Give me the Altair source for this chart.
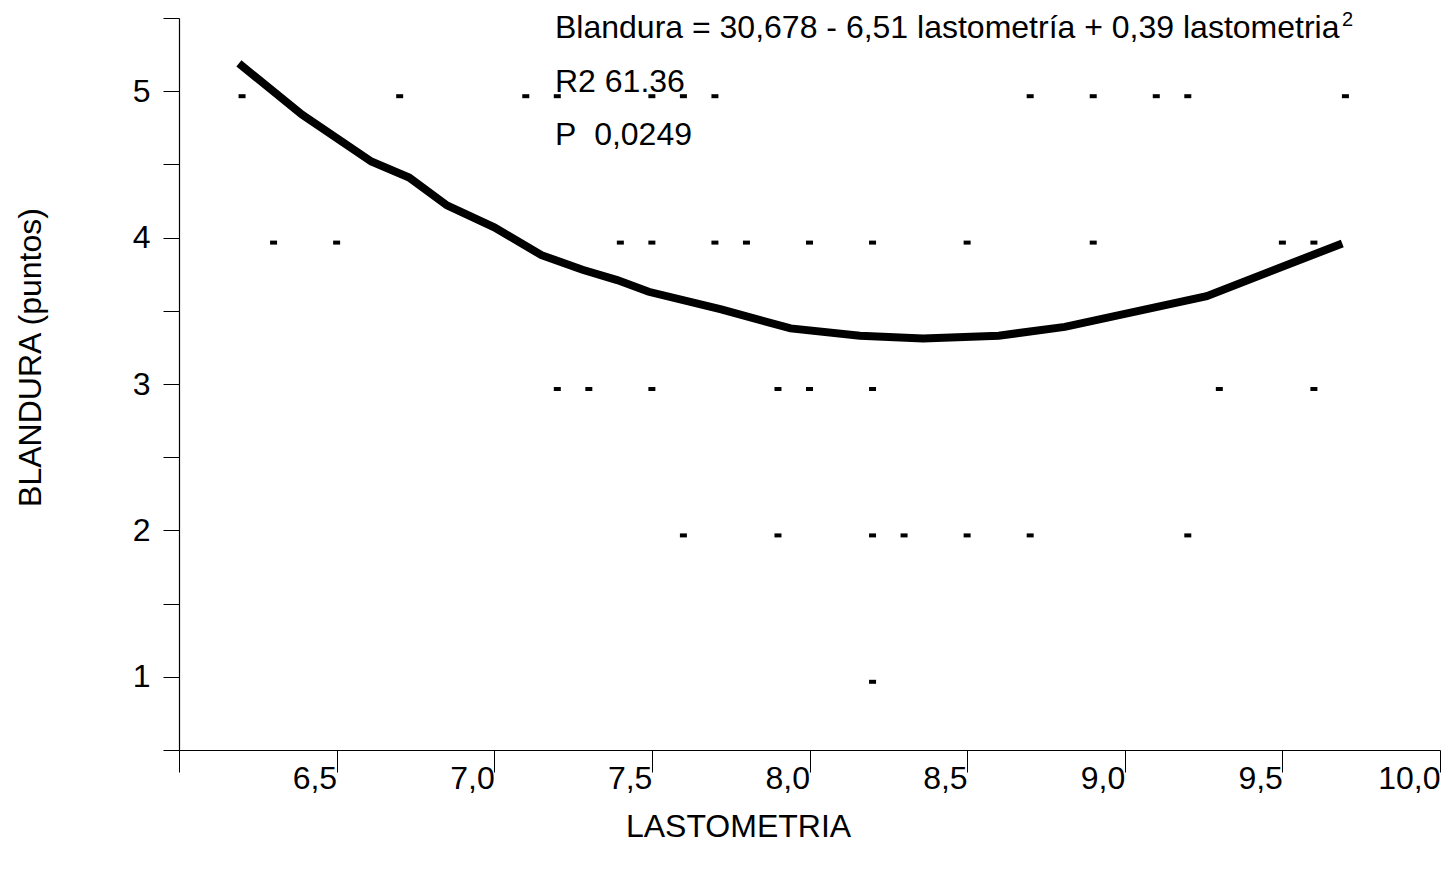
import altair as alt
import pandas as pd

# Observations (LASTOMETRIA value) grouped by BLANDURA score
x_at_5 = [6.2, 6.7, 7.1, 7.2, 7.5, 7.6, 7.7, 8.7, 8.9, 9.1, 9.2, 9.7]
x_at_4 = [6.3, 6.5, 7.4, 7.5, 7.7, 7.8, 8.0, 8.2, 8.5, 8.9, 9.5, 9.6]
x_at_3 = [7.2, 7.3, 7.5, 7.9, 8.0, 8.2, 9.3, 9.6]
x_at_2 = [7.6, 7.9, 8.2, 8.3, 8.5, 8.7, 9.2]
x_at_1 = [8.2]

# Fitted curve vertices
curve_x = [6.19, 6.39, 6.61, 6.73, 6.85, 7.0, 7.15, 7.28, 7.39, 7.49, 7.72,
           7.94, 8.16, 8.36, 8.60, 8.81, 9.26, 9.69]
curve_y = [5.19, 4.84, 4.52, 4.41, 4.22, 4.07, 3.88, 3.78, 3.71, 3.63, 3.51,
           3.38, 3.33, 3.31, 3.33, 3.39, 3.60, 3.96]

x_ticks = [6.0, 6.5, 7.0, 7.5, 8.0, 8.5, 9.0, 9.5, 10.0]
y_ticks = [0.5, 1.0, 1.5, 2.0, 2.5, 3.0, 3.5, 4.0, 4.5, 5.0, 5.5]

equation = "Blandura = 30,678 - 6,51 lastometría + 0,39 lastometria"
superscript = "2"
r2_text = "R2 61.36"
p_text = "P\u00a0\u00a00,0249"

rows = []
for score, xs in [(5, x_at_5), (4, x_at_4), (3, x_at_3), (2, x_at_2), (1, x_at_1)]:
    for v in xs:
        rows.append({"lastometria": v, "blandura": score})
pts = pd.DataFrame(rows)
curve = pd.DataFrame({"lastometria": curve_x, "blandura": curve_y})

FONT = "Liberation Sans"
FS = 32

xscale = alt.Scale(domain=[6, 10], nice=False, zero=False)
yscale = alt.Scale(domain=[0.5, 5.5], nice=False, zero=False)

xaxis = alt.Axis(
    values=x_ticks, grid=False, title="LASTOMETRIA",
    labelExpr="datum.value == 6 ? '' : replace(format(datum.value, '.1f'), '.', ',')",
    tickSize=22, labelAlign="right", labelBaseline="middle", labelPadding=6,
    titleX=559, titleY=76, titleBaseline="middle", titleAlign="center",
)
yaxis = alt.Axis(
    values=y_ticks, grid=False, title="BLANDURA (puntos)",
    labelExpr="datum.value % 1 == 0 ? format(datum.value, 'd') : ''",
    tickSize=16, labelPadding=13, labelAlign="right", labelBaseline="middle",
    titleX=-149, titleY=339, titleAngle=-90, titleAlign="center", titleBaseline="middle",
)

line = alt.Chart(curve).mark_line(color="black", strokeWidth=8).encode(
    x=alt.X("lastometria:Q", scale=xscale, axis=xaxis),
    y=alt.Y("blandura:Q", scale=yscale, axis=yaxis),
)

points = alt.Chart(pts).mark_tick(
    orient="horizontal", size=7, thickness=4, color="black", yOffset=5, opacity=1
).encode(
    x=alt.X("lastometria:Q", scale=xscale),
    y=alt.Y("blandura:Q", scale=yscale),
)


def label(text, x, y, size=FS):
    return alt.Chart(pd.DataFrame({"t": [text]})).mark_text(
        align="left", baseline="middle", font=FONT, fontSize=size, color="black"
    ).encode(x=alt.value(x), y=alt.value(y), text="t:N")


ann = [
    label(equation, 376, 10),
    label(superscript, 1163, 2, 20),
    label(r2_text, 376, 64),
    label(p_text, 376, 117),
]

chart = alt.layer(line, points, *ann).properties(
    width=1261, height=732,
    autosize=alt.AutoSizeParams(type="none"),
    padding={"left": 179, "top": 18, "right": 7, "bottom": 121},
).configure_view(stroke=None).configure_axis(
    labelFont=FONT, titleFont=FONT, labelFontSize=FS, titleFontSize=FS,
    titleFontWeight="normal", labelColor="black", titleColor="black",
    domainColor="black", tickColor="black", domainWidth=1.2, tickWidth=1,
)

chart.save("out.html", embed_options={"renderer": "svg", "actions": False})
